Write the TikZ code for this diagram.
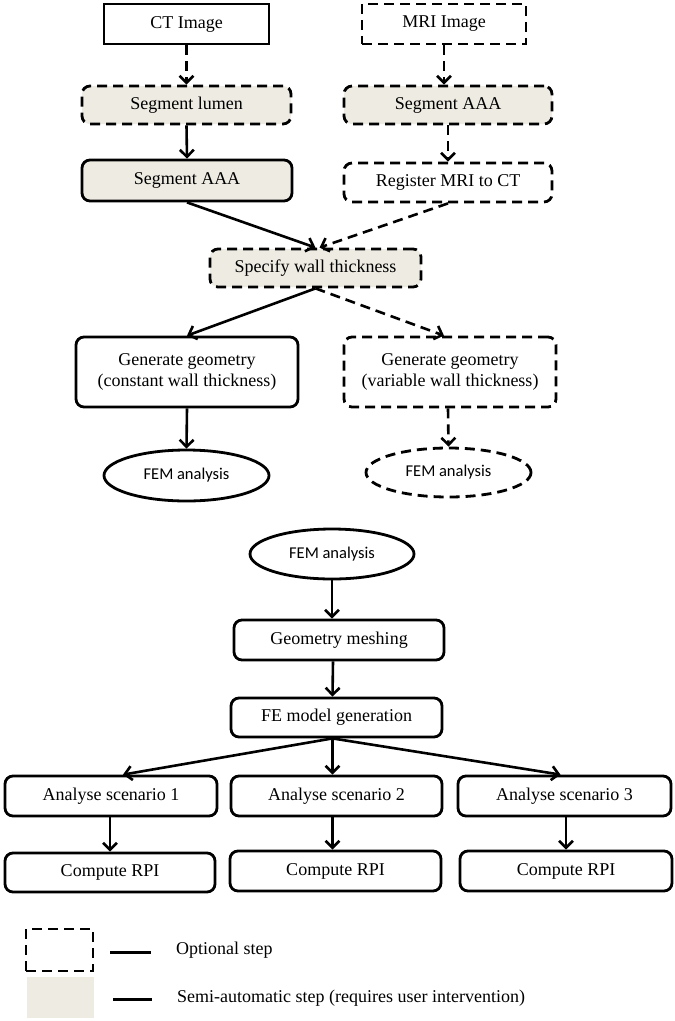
\documentclass[tikz,border=0pt]{standalone}
\usepackage{fontspec}
\setmainfont{Liberation Serif}
\newfontfamily\calib{Carlito}
\usetikzlibrary{arrows.meta,shapes.geometric,calc}
\definecolor{semi}{RGB}{238,235,226}
\begin{document}
\begin{tikzpicture}[x=1pt,y=-1pt,
  every node/.style={font=\fontsize{18}{21}\selectfont, inner sep=0pt, align=center},
  base/.style={draw=black, line width=2.8pt},
  sq/.style={base, rectangle},
  rbox/.style={base, rectangle, rounded corners=8pt},
  opt/.style={dash pattern=on 10pt off 6pt},
  semibox/.style={fill=semi},
  ell/.style={base, ellipse, font=\calib\fontsize{16.5}{20}\selectfont},
  arr/.style={line width=2.6pt, -{Straight Barb[length=7pt,width=14pt]}},
  darr/.style={arr, dash pattern=on 10pt off 6pt},
]
\useasboundingbox (0,0) rectangle (675,1021);

% top part
\node[sq, minimum width=165pt, minimum height=40pt] (ct) at (186.5,24) {CT Image};
\node[sq, opt, minimum width=164pt, minimum height=40pt] (mri) at (444,24) {MRI Image};
\node[rbox, opt, semibox, minimum width=209pt, minimum height=38pt] (segl) at (186.5,105) {Segment lumen};
\node[rbox, semibox, minimum width=210pt, minimum height=41pt] (sega) at (187,180.5) {Segment AAA};
\node[rbox, opt, semibox, minimum width=208pt, minimum height=38pt] (segam) at (448,105) {Segment AAA};
\node[rbox, opt, minimum width=208pt, minimum height=39pt] (reg) at (448,182.5) {Register MRI to CT};
\node[rbox, opt, semibox, minimum width=211pt, minimum height=38pt] (spec) at (315.5,268) {Specify wall thickness};
\node[rbox, minimum width=222pt, minimum height=70pt] (genc) at (187,372) {Generate geometry\\(constant wall thickness)};
\node[rbox, opt, minimum width=212pt, minimum height=70pt] (genv) at (450,372) {Generate geometry\\(variable wall thickness)};
\node[ell, minimum width=165pt, minimum height=51pt] (feml) at (186.5,475.5) {FEM analysis};
\node[ell, opt, minimum width=165pt, minimum height=49pt] (femr) at (448.5,472.5) {FEM analysis};

\draw[darr] (ct.south) -- (segl.north);
\draw[darr] (mri.south) -- (mri.south |- segam.north);
\draw[arr] (segl.south) -- (sega.north);
\draw[darr] (segam.south) -- (reg.north);
\draw[arr] (sega.south) -- (spec.north);
\draw[darr] (reg.south) -- ($(spec.north)+(4,0)$);
\draw[arr] (spec.south) -- (genc.north);
\draw[darr] (spec.south) -- ($(genv.north)+(-6,0)$);
\draw[arr] (genc.south) -- (feml.north);
\draw[darr] ($(genv.south)+(-2,0)$) -- (femr.north);

% bottom part
\node[ell, minimum width=164pt, minimum height=50pt] (fem) at (332,554) {FEM analysis};
\node[rbox, minimum width=210pt, minimum height=40pt] (mesh) at (339,640) {Geometry meshing};
\node[rbox, minimum width=211pt, minimum height=39pt] (fe) at (336.5,717.5) {FE model generation};
\node[rbox, minimum width=212pt, minimum height=40pt] (a1) at (111,796) {Analyse scenario 1};
\node[rbox, minimum width=211pt, minimum height=40pt] (a2) at (336.5,796) {Analyse scenario 2};
\node[rbox, minimum width=213pt, minimum height=40pt] (a3) at (564.5,796) {Analyse scenario 3};
\node[rbox, minimum width=210pt, minimum height=39pt] (c1) at (110,872.5) {Compute RPI};
\node[rbox, minimum width=211pt, minimum height=40pt] (c2) at (335.5,871) {Compute RPI};
\node[rbox, minimum width=212pt, minimum height=40pt] (c3) at (566,871) {Compute RPI};

\draw[arr] (fem.south) -- (fem.south |- mesh.north);
\draw[arr] ($(mesh.south)+(-6,0)$) -- ($(fe.north)+(-4,0)$);
\draw[arr] ($(fe.south)+(-4,0)$) -- ($(a1.north)+(12,0)$);
\draw[arr] ($(fe.south)+(-4,0)$) -- ($(a2.north)+(-4,0)$);
\draw[arr] ($(fe.south)+(-4,0)$) -- ($(a3.north)+(-4,0)$);
\draw[arr] (c1.north |- a1.south) -- (c1.north);
\draw[arr] ($(a2.south)+(-4,0)$) -- ($(c2.north)+(-3,0)$);
\draw[arr] (c3.north |- a3.south) -- (c3.north);

% legend
\node[sq, opt, minimum width=67pt, minimum height=42pt] (lopt) at (59.5,950) {};
\node[fill=semi, minimum width=67pt, minimum height=41pt] (lsemi) at (60.5,997.5) {};
\node[anchor=west] (topt) at (176,950) {Optional step};
\node[anchor=west] (tsemi) at (177,998) {Semi-automatic step (requires user intervention)};
\draw[line width=3pt] ($(lopt.east)+(16,2)$) -- ($(topt.west)+(-25,2)$);
\draw[line width=3pt] ($(lsemi.east)+(19,1.5)$) -- ($(tsemi.west)+(-25,1)$);
\end{tikzpicture}
\end{document}
